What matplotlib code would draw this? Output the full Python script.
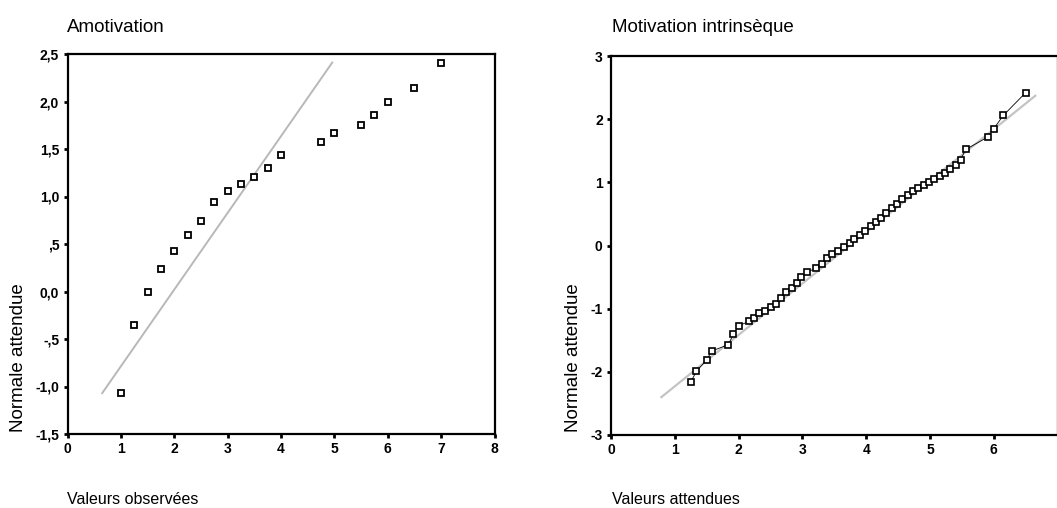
import matplotlib
matplotlib.use("Agg")
import matplotlib.pyplot as plt

plt.rcParams["axes.unicode_minus"] = False

# --- data ---
# Amotivation : observed values vs expected normal
amot_x = [1.0, 1.25, 1.5, 1.75, 2.0, 2.25, 2.5, 2.75, 3.0, 3.25, 3.5, 3.75, 4.0,
          4.75, 5.0, 5.5, 5.75, 6.0, 6.5, 7.0]
amot_y = [-1.07, -0.35, 0.0, 0.24, 0.43, 0.59, 0.74, 0.94, 1.06, 1.13, 1.21, 1.30, 1.44,
          1.57, 1.67, 1.75, 1.86, 1.99, 2.14, 2.41]
amot_line_x = [0.65, 4.96]
amot_line_y = [-1.07, 2.41]
amot_yticks = [-1.5, -1.0, -0.5, 0.0, 0.5, 1.0, 1.5, 2.0, 2.5]
amot_yticklabels = ["-1,5", "-1,0", "-,5", "0,0", ",5", "1,0", "1,5", "2,0", "2,5"]
amot_xticks = [0, 1, 2, 3, 4, 5, 6, 7, 8]

# Motivation intrinseque : expected values vs expected normal
intr_x = [1.25, 1.34, 1.50, 1.58, 1.84, 1.92, 2.00, 2.17, 2.24, 2.32, 2.41, 2.50,
          2.58, 2.66, 2.74, 2.83, 2.91, 2.98, 3.07, 3.22, 3.31, 3.39, 3.47, 3.56,
          3.65, 3.74, 3.81, 3.90, 3.98, 4.07, 4.15, 4.23, 4.31, 4.40, 4.48, 4.56,
          4.65, 4.73, 4.81, 4.90, 4.98, 5.06, 5.15, 5.23, 5.31, 5.40, 5.48, 5.56,
          5.91, 6.00, 6.15, 6.50]
intr_y = [-2.16, -1.99, -1.81, -1.67, -1.57, -1.40, -1.27, -1.20, -1.14, -1.07, -1.03, -0.98,
          -0.92, -0.83, -0.74, -0.67, -0.59, -0.50, -0.42, -0.36, -0.30, -0.20, -0.13, -0.08,
          -0.02, 0.04, 0.11, 0.17, 0.23, 0.31, 0.37, 0.44, 0.52, 0.59, 0.65, 0.73,
          0.80, 0.86, 0.91, 0.96, 1.00, 1.05, 1.10, 1.15, 1.21, 1.28, 1.36, 1.52,
          1.72, 1.85, 2.06, 2.42]
intr_line_x = [0.79, 6.65]
intr_line_y = [-2.40, 2.37]
intr_yticks = [-3, -2, -1, 0, 1, 2, 3]
intr_xticks = [0, 1, 2, 3, 4, 5, 6]

W, H = 1057, 508
narrow = ["Liberation Sans Narrow", "Liberation Sans", "DejaVu Sans"]
plain = ["Liberation Sans", "DejaVu Sans"]

fig = plt.figure(figsize=(W / 100, H / 100), dpi=100)


def px_axes(x0, x1, ytop, ybot):
    # axes rectangle given in pixel coords of the image
    return fig.add_axes([x0 / W, 1 - ybot / H, (x1 - x0) / W, (ybot - ytop) / H])


def style(ax):
    for s in ax.spines.values():
        s.set_linewidth(1.6)
        s.set_color("black")
    ax.tick_params(direction="out", length=3, width=2, pad=3, colors="black")
    for lab in ax.get_xticklabels() + ax.get_yticklabels():
        lab.set_fontfamily(narrow)
        lab.set_fontweight("bold")
        lab.set_fontsize(10)


# left panel
ax1 = px_axes(67.5, 494.5, 54, 434)
ax1.plot(amot_line_x, amot_line_y, color="#b8b8b8", lw=1.4, zorder=1)
ax1.plot(amot_x, amot_y, ls="none", marker="s", ms=5, mfc="white", mec="black",
         mew=1.3, zorder=3)
ax1.set_xlim(0, 8)
ax1.set_ylim(-1.5, 2.5)
ax1.set_xticks(amot_xticks)
ax1.set_yticks(amot_yticks)
ax1.set_yticklabels(amot_yticklabels)
style(ax1)

# right panel
ax2 = px_axes(611, 1057.6, 56, 435)
ax2.plot(intr_line_x, intr_line_y, color="#c4c4c4", lw=1.6, zorder=1)
ax2.plot(intr_x, intr_y, color="black", lw=0.6, marker="s", ms=4.6, mfc="white",
         mec="black", mew=1.2, zorder=3)
ax2.set_xlim(0, 7)
ax2.set_ylim(-3, 3)
ax2.set_xticks(intr_xticks)
ax2.set_yticks(intr_yticks)
style(ax2)

# texts
def ftext(x, y, s, **kw):
    fig.text(x / W, 1 - y / H, s, **kw)

ftext(67, 32, "Amotivation", family=narrow, fontsize=13.5, va="baseline", ha="left")
ftext(612, 32, "Motivation intrinsèque", family=narrow, fontsize=13.5, va="baseline", ha="left")
ftext(67, 504, "Valeurs observées", family=narrow, fontsize=11.5, va="baseline", ha="left")
ftext(612, 504, "Valeurs attendues", family=narrow, fontsize=11.5, va="baseline", ha="left")
ftext(19, 358, "Normale attendue", family=plain, fontsize=13.5, rotation=90,
      va="center", ha="center")
ftext(573, 358, "Normale attendue", family=plain, fontsize=13.5, rotation=90,
      va="center", ha="center")

fig.savefig("out.png", dpi=100)
